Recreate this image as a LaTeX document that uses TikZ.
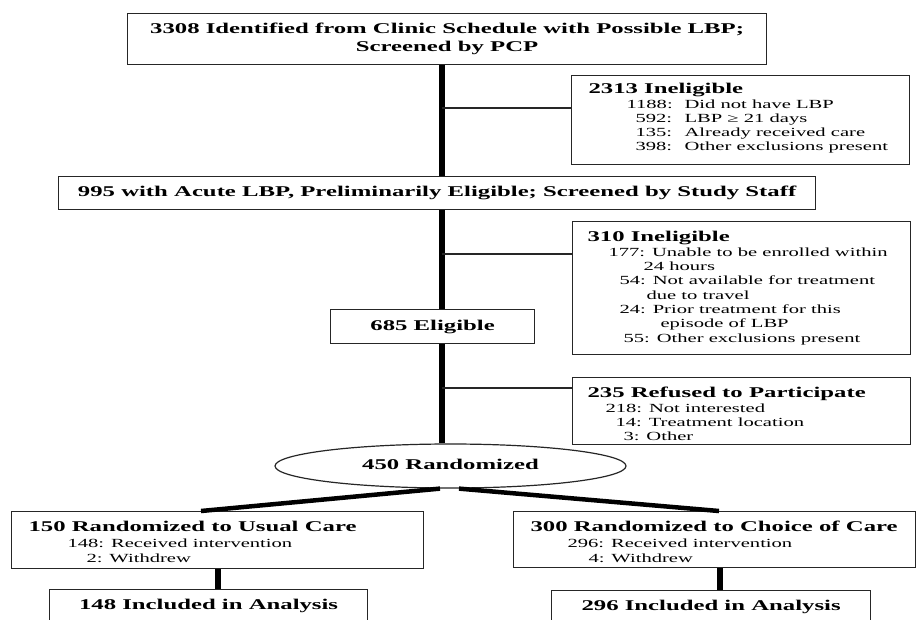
\documentclass[tikz,border=0pt]{standalone}
\usepackage{fontspec}
\setmainfont{Liberation Serif}[FakeStretch=1.66]
\usetikzlibrary{shapes.geometric,calc}
\newcommand\hfont{\fontsize{14.9}{18}\selectfont\bfseries}
\newcommand\dfont{\fontsize{12.4}{14}\selectfont}
\newcommand\HL[2]{\hbox{\hspace*{#1pt}\hfont #2}}
\newcommand\DL[2]{\hbox{\hspace*{#1pt}#2}}
\newcommand\NL[4]{\hbox{\rlap{\hspace*{#1pt}#2}\hspace*{#3pt}#4}}
\newcommand\BS[1]{\baselineskip=#1pt\relax}
\newcommand\CNT[2]{\hbox to #1pt{\vbox{\dfont #2}\hss}}
\tikzset{
  box/.style={draw=black!85, line width=1.2pt, inner sep=0pt, anchor=north west},
  spineline/.style={line width=6pt, black},
  thinline/.style={line width=1.1pt, black!85},
  diagline/.style={line width=4.5pt, black},
  lowline/.style={line width=6.5pt, black}
}
\begin{document}
\begin{tikzpicture}[x=1pt,y=-1pt]
\fill[white] (0,0) rectangle (917,619);
\useasboundingbox (0,0) rectangle (917,619);

\node[box, minimum width=639pt, minimum height=51pt, align=center, font=\hfont] (top) at (127,13)
  {3308 Identified from Clinic Schedule with Possible LBP;\\Screened by PCP};

\node[box, minimum width=338pt, minimum height=89pt] (inel1) at (571,75)
  {\CNT{338}{\HL{17}{2313 Ineligible}\BS{15}%
   \NL{55}{1188:}{113}{Did not have LBP}\BS{14}%
   \NL{64}{592:}{113}{LBP ≥ 21 days}%
   \NL{64}{135:}{113}{Already received care}%
   \NL{64}{398:}{113}{Other exclusions present}\kern3pt}};

\node[box, minimum width=757pt, minimum height=33pt, font=\hfont] (acute) at (58,176)
  {995 with Acute LBP, Preliminarily Eligible; Screened by Study Staff};

\node[box, minimum width=338pt, minimum height=133pt] (inel2) at (572,221)
  {\CNT{338}{\HL{15}{310 Ineligible}\BS{14.5}%
   \DL{36}{177: Unable to be enrolled within}\BS{14.3}%
   \DL{71}{24 hours}%
   \DL{47}{54: Not available for treatment}%
   \DL{74}{due to travel}%
   \DL{47}{24: Prior treatment for this}%
   \DL{88}{episode of LBP}%
   \DL{51}{55: Other exclusions present}}};

\node[box, minimum width=204pt, minimum height=34pt, font=\hfont] (elig) at (330,309) {685 Eligible};

\node[box, minimum width=338pt, minimum height=67pt] (refused) at (572,377)
  {\CNT{338}{\kern5pt\HL{15}{235 Refused to Participate}\BS{15}%
   \DL{33}{218: Not interested}\BS{14}%
   \DL{43}{14: Treatment location}%
   \DL{51}{3: Other}}};

\node[draw=black!85, line width=1.2pt, ellipse, minimum width=351pt, minimum height=44pt, inner sep=0pt, text depth=4pt, font=\hfont] (rand) at (450.5,466) {450 Randomized};

\node[box, minimum width=412pt, minimum height=57pt] (usual) at (11,511)
  {\CNT{412}{\kern4pt\HL{17}{150 Randomized to Usual Care}\BS{16}%
   \DL{56}{148: Received intervention}\BS{15}%
   \DL{75}{2: Withdrew}}};

\node[box, minimum width=402pt, minimum height=56pt] (choice) at (513,511)
  {\CNT{402}{\kern4pt\HL{17}{300 Randomized to Choice of Care}\BS{16}%
   \DL{54}{296: Received intervention}\BS{15}%
   \DL{75}{4: Withdrew}}};

\node[box, minimum width=318pt, minimum height=32pt, font=\hfont] (inc1) at (49,589) {148 Included in Analysis};
\node[box, minimum width=319pt, minimum height=32pt, font=\hfont] (inc2) at (551,590) {296 Included in Analysis};

% spine
\coordinate (spine) at (441.5,0);
\draw[spineline] (top.south -| spine) -- (acute.north -| spine);
\draw[spineline] (acute.south -| spine) -- (elig.north -| spine);
\draw[spineline] (elig.south -| spine) -- (rand.north -| spine);

% branches
\coordinate (b1) at (441.5,108);
\coordinate (b2) at (441.5,254);
\coordinate (b3) at (441.5,388);
\draw[thinline] (b1) -- (b1 -| inel1.west);
\draw[thinline] (b2) -- (b2 -| inel2.west);
\draw[thinline] (b3) -- (b3 -| refused.west);

% diagonals
\coordinate (dl) at (201,0);
\coordinate (dr) at (719,0);
\draw[diagline] ([xshift=-10.5pt]rand.south) -- (usual.north -| dl);
\draw[diagline] ([xshift=8.5pt]rand.south) -- (choice.north -| dr);

% lower verticals
\coordinate (vl) at (218,0);
\coordinate (vr) at (720,0);
\draw[lowline] (usual.south -| vl) -- (inc1.north -| vl);
\draw[lowline] (choice.south -| vr) -- (inc2.north -| vr);
\end{tikzpicture}
\end{document}
